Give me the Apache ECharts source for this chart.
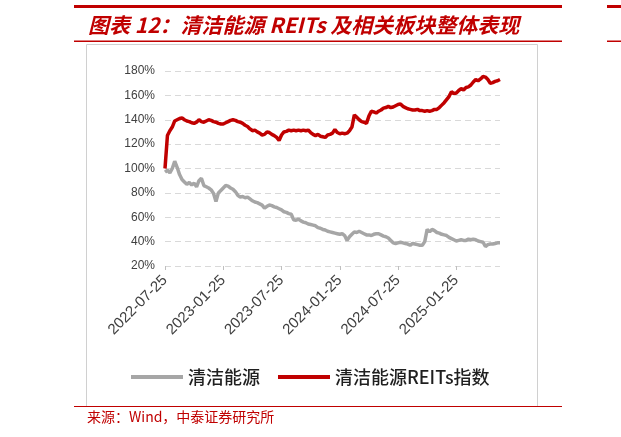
<!DOCTYPE html>
<html>
<head>
<meta charset="utf-8">
<script src="https://cdn.jsdelivr.net/npm/echarts@6/dist/echarts.min.js"></script>
<style>
  html, body { margin: 0; padding: 0; background: #fff; }
  #chart { width: 621px; height: 437px; }
</style>
</head>
<body>
<div id="chart"></div>
<script>
// one point per ~week: the 25th, then the 2nd/10th/17th/25th of every month
var dates = ['2022-07-25'];
(function () {
  var y = 2022, m = 8;
  while (y < 2025 || (y === 2025 && m <= 6)) {
    var mm = (m < 10 ? '0' : '') + m;
    var days = (y === 2025 && m === 6) ? ['02', '10'] : ['02', '10', '17', '25'];
    days.forEach(function (d) { dates.push(y + '-' + mm + '-' + d); });
    m++;
    if (m > 12) { m = 1; y++; }
  }
})();

var seriesNames = ['清洁能源', '清洁能源REITs指数'];

// 清洁能源 (%)
var cleanEnergy = [
  97, 98.5, 96.5, 100, 106, 101, 95, 91, 89, 87,
  88.5, 86.5, 88, 85, 90, 92, 86, 85, 84, 82.5,
  79.5, 73, 80, 82, 84, 86, 85.5, 84, 83, 81,
  78, 76.5, 77, 76, 76.5, 75, 73.5, 72.5, 72, 71,
  70, 67.5, 69, 70, 69.5, 68.5, 68, 67, 66, 64.5,
  64, 63, 62.5, 58, 57.5, 58.5, 57, 56, 55.5, 54.5,
  54, 53.5, 53, 51.5, 51, 50, 49.5, 48.5, 48, 47.5,
  47, 46.5, 46, 46.5, 45, 41, 44, 46, 48, 47.5,
  48.5, 47.5, 46.5, 45.5, 45.5, 45, 46, 46.5, 46.5, 45.5,
  44.5, 44, 43, 41, 39, 38.5, 39, 39.5, 39, 38.5,
  38, 37, 38.5, 38, 37.5, 37, 37, 40, 50, 48,
  50, 49, 47.5, 47, 46, 45.5, 45, 43.5, 42.5, 41.5,
  40.5, 41, 41.5, 41, 41, 42, 41.5, 42, 41.5, 40.5,
  40, 39.5, 36, 37.5, 38, 38, 38.5, 39, 39
];

// 清洁能源REITs指数 (%)
var reitsIndex = [
  100, 127, 131, 134, 139, 140, 141, 141.5, 140, 139,
  138.5, 137.5, 137, 138, 140, 138.5, 138, 139, 140, 139.5,
  138.5, 138, 137, 136.5, 136.5, 137.5, 138.5, 139.5, 140, 139.5,
  138.5, 138, 137, 135.5, 134.5, 132.5, 131, 131.5, 130, 129,
  127.5, 128, 130, 129.5, 128, 127, 125.5, 123, 127.5, 130,
  130.5, 131.5, 131, 131.5, 131, 131.5, 131, 131.5, 131, 131.5,
  129.5, 128, 127, 128, 126.5, 126, 125.5, 127.5, 128, 129,
  132, 129.5, 128.5, 129, 128.5, 129, 131, 134, 144, 142,
  140, 138.5, 138, 137, 143, 147, 146.5, 145.5, 147, 148,
  149.5, 150, 151, 150, 150.5, 151.5, 152.5, 153, 151, 150,
  149, 148.5, 148, 148, 148.5, 147.5, 147.5, 147, 147.5, 147,
  147.5, 148.5, 148.5, 150, 152, 154, 156.5, 159, 163, 161.5,
  162, 164, 165.5, 164.5, 166.5, 167, 168.5, 171, 173, 172,
  173.5, 175.5, 175, 173, 170, 170.5, 171.5, 172, 173
];

var xTickLabels = ['2022-07-25', '2023-01-25', '2023-07-25', '2024-01-25', '2024-07-25', '2025-01-25'];
var yMin = 20, yMax = 180, yStep = 20;

var RED = '#C00000';
var GREY = '#A6A6A6';

function isTick(i) {
  return xTickLabels.indexOf(dates[i]) >= 0;
}

var chart = echarts.init(document.getElementById('chart'));
chart.setOption({
  animation: false,
  title: {
    text: '图表 12：清洁能源 REITs 及相关板块整体表现',
    left: 83,
    top: 10,
    textStyle: {
      color: RED,
      fontSize: 21,
      fontWeight: 'bold',
      fontStyle: 'italic',
      fontFamily: 'Noto Sans CJK SC'
    }
  },
  graphic: [
    { type: 'rect', shape: { x: 74, y: 5, width: 488, height: 3 }, style: { fill: RED }, silent: true },
    { type: 'rect', shape: { x: 607, y: 5, width: 14, height: 3 }, style: { fill: RED }, silent: true },
    { type: 'rect', shape: { x: 74, y: 40.5, width: 488, height: 1.5 }, style: { fill: RED }, silent: true },
    { type: 'rect', shape: { x: 607, y: 40.5, width: 14, height: 1.5 }, style: { fill: RED }, silent: true },
    { type: 'rect', shape: { x: 86.5, y: 44.5, width: 451, height: 362 }, style: { fill: 'none', stroke: '#D0D0D0', lineWidth: 1 }, silent: true },
    { type: 'line', shape: { x1: 74, y1: 406.5, x2: 562, y2: 406.5 }, style: { stroke: RED, lineWidth: 1 }, silent: true },
    {
      type: 'text', left: 87, top: 410,
      style: { text: '来源：Wind，中泰证券研究所', fill: RED, fontSize: 14, fontFamily: 'Noto Sans CJK SC' },
      silent: true
    }
  ],
  legend: {
    data: seriesNames,
    left: 126,
    top: 363,
    icon: 'rect',
    itemWidth: 52,
    itemHeight: 4,
    itemGap: 18,
    textStyle: { color: '#1f1f1f', fontSize: 18, fontWeight: 500, fontFamily: 'Noto Sans CJK SC' }
  },
  grid: { left: 165, right: 121, top: 71, bottom: 171, containLabel: false },
  xAxis: {
    type: 'category',
    data: dates,
    boundaryGap: false,
    axisLine: { show: false },
    axisTick: {
      show: true,
      interval: function (i) { return isTick(i); },
      length: 4,
      lineStyle: { color: '#BFBFBF' }
    },
    axisLabel: {
      interval: function (i) { return isTick(i); },
      rotate: 45,
      margin: 12,
      color: '#404040',
      fontSize: 15,
      fontFamily: 'Liberation Sans'
    },
    splitLine: { show: false }
  },
  yAxis: {
    type: 'value',
    min: yMin,
    max: yMax,
    interval: yStep,
    axisLine: { show: false },
    axisTick: { show: false },
    axisLabel: {
      formatter: '{value}%',
      margin: 10,
      color: '#404040',
      fontSize: 12,
      fontFamily: 'Liberation Sans'
    },
    splitLine: { lineStyle: { color: '#D9D9D9', type: [6, 4], width: 1 } }
  },
  series: [
    {
      name: seriesNames[0],
      type: 'line',
      data: cleanEnergy,
      showSymbol: false,
      lineStyle: { color: GREY, width: 3.5 },
      itemStyle: { color: GREY }
    },
    {
      name: seriesNames[1],
      type: 'line',
      data: reitsIndex,
      showSymbol: false,
      lineStyle: { color: RED, width: 3.5 },
      itemStyle: { color: RED }
    }
  ]
});
</script>
</body>
</html>
